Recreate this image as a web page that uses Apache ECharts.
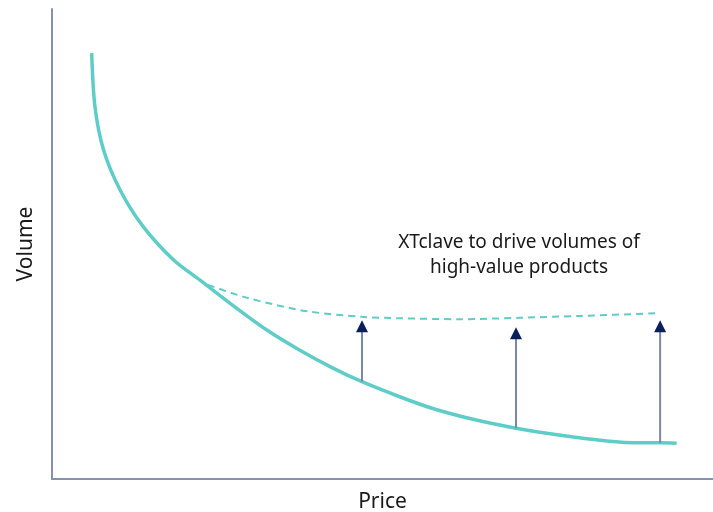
<!DOCTYPE html>
<html>
<head>
<meta charset="utf-8">
<script src="https://cdn.jsdelivr.net/npm/echarts@6/dist/echarts.min.js"></script>
<style>
  html, body { margin: 0; padding: 0; background: #fff; }
  #chart { width: 713px; height: 512px; }
</style>
</head>
<body>
<div id="chart"></div>
<script>
// Demand curve today: volume falls as price rises
const baseCurve = [
  [6.0, 90.6], [6.5, 79.2], [7.8, 70.0], [10.3, 61.5], [13.8, 53.7],
  [18.4, 46.6], [22.4, 42.3], [27.4, 36.9], [32.5, 31.7], [37.5, 27.4],
  [42.5, 23.6], [46.9, 20.7], [52.6, 17.5], [57.6, 15.0], [63.7, 12.7],
  [70.2, 10.8], [76.4, 9.4], [83.9, 8.1], [89.0, 7.7], [92.0, 7.7], [94.5, 7.6]
];
// Lifted curve for high-value products
const liftedCurve = [
  [23.6, 41.3], [28.9, 38.8], [34.0, 37.0], [39.0, 35.6], [46.9, 34.5],
  [52.6, 34.2], [61.7, 34.0], [70.8, 34.3], [79.9, 34.7], [92.0, 35.3]
];
// Upward shift arrows
const arrowX = [46.9, 70.2, 92.0];
const arrowBase = [20.7, 10.8, 7.7];
const arrowTip = [33.8, 32.3, 33.8];

const teal = '#5fcdc7';
const shaftColor = '#7d87aa';
const headColor = '#0b1f5c';
const axisColor = '#8591b3';

const arrowSeries = arrowX.map((x, i) => ({
  type: 'line',
  data: [[x, arrowBase[i]], [x, arrowTip[i] - 2.4]],
  symbol: 'none',
  lineStyle: { color: shaftColor, width: 2 },
  silent: true,
  z: 3
}));

const chart = echarts.init(document.getElementById('chart'), null, { renderer: 'canvas' });
chart.setOption({
  animation: false,
  grid: { left: 52, top: 9, right: 0, bottom: 33, containLabel: false, outerBoundsMode: 'none' },
  xAxis: {
    type: 'value', min: 0, max: 100,
    name: 'Price', nameLocation: 'middle', nameGap: 13,
    nameTextStyle: { fontFamily: 'Noto Sans', fontSize: 21, color: '#1a1a1a' },
    axisLine: { show: true, lineStyle: { color: axisColor, width: 2 } },
    axisTick: { show: false }, axisLabel: { show: false }, splitLine: { show: false }
  },
  yAxis: {
    type: 'value', min: 0, max: 100,
    name: 'Volume', nameLocation: 'middle', nameGap: 15,
    nameTextStyle: { fontFamily: 'Noto Sans', fontSize: 21, color: '#1a1a1a' },
    axisLine: { show: true, lineStyle: { color: axisColor, width: 2 } },
    axisTick: { show: false }, axisLabel: { show: false }, splitLine: { show: false }
  },
  series: [
    {
      type: 'line', data: baseCurve, smooth: 0.3, symbol: 'none',
      lineStyle: { color: teal, width: 3.5 }, z: 2
    },
    {
      type: 'line', data: liftedCurve, smooth: 0.3, symbol: 'none',
      lineStyle: { color: teal, width: 2, type: [7, 5] }, z: 2
    },
    ...arrowSeries,
    {
      type: 'scatter',
      data: arrowX.map((x, i) => [x, arrowTip[i]]),
      symbol: 'triangle', symbolSize: [12, 12], symbolOffset: [0, '50%'],
      itemStyle: { color: headColor, opacity: 1 }, silent: true, z: 4
    }
  ],
  graphic: [{
    type: 'text', x: 519, y: 230,
    style: {
      text: 'XTclave to drive volumes of\nhigh-value products',
      fontFamily: 'Noto Sans', fontSize: 19, lineHeight: 25,
      fill: '#1a1a1a', align: 'center'
    }
  }]
});
</script>
</body>
</html>
